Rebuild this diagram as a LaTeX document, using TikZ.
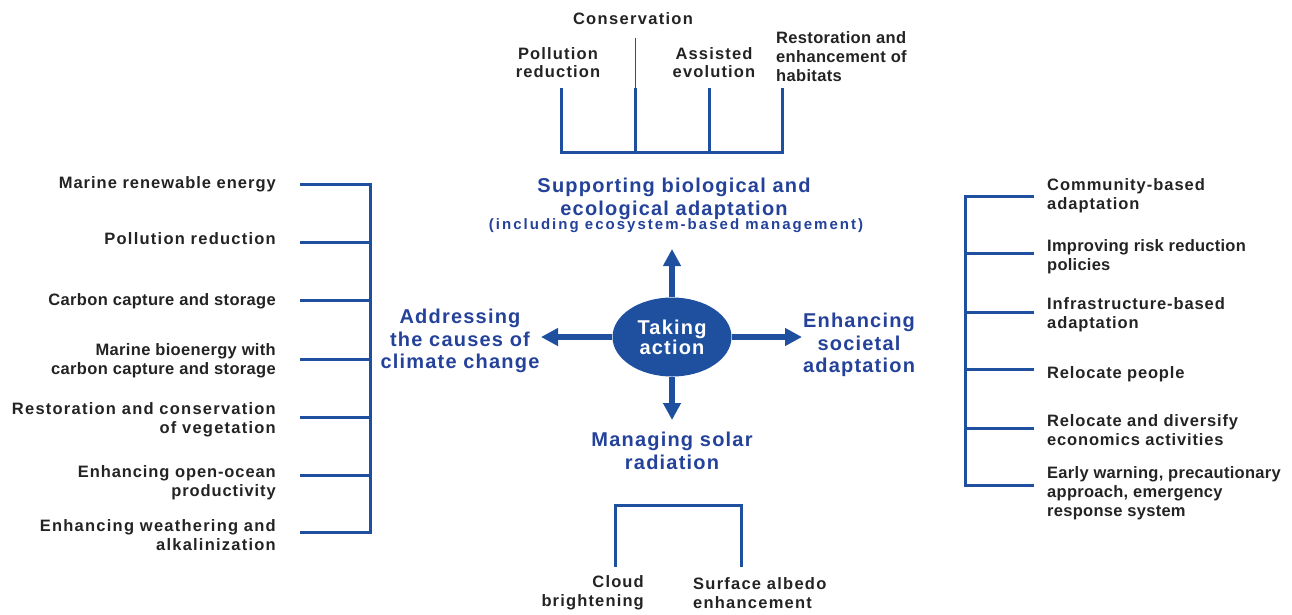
\documentclass[tikz,border=0pt]{standalone}
\usepackage{fontspec}
\setmainfont{Liberation Sans}
\usetikzlibrary{shapes.geometric,arrows.meta}

\definecolor{ipccblue}{RGB}{31,80,160}
\definecolor{headblue}{RGB}{36,66,154}
\definecolor{inkgrey}{RGB}{35,35,35}

\tikzset{
  item/.style={font=\bfseries\fontsize{16.5}{18.8}\selectfont\addfontfeatures{LetterSpace=#1}, text=inkgrey, inner sep=0pt},
  item/.default=5,
  head/.style={font=\bfseries\fontsize{20}{22.5}\selectfont\addfontfeatures{LetterSpace=6}, text=headblue, inner sep=0pt, align=center},
  bracket/.style={draw=ipccblue, line width=3pt, line join=miter},
  bigarrow/.style={draw=ipccblue, line width=6.5pt, -{Triangle[length=17pt,width=17pt]}},
}

\begin{document}
\begin{tikzpicture}[x=1pt,y=-1pt]
\useasboundingbox (0,0) rectangle (1292,614);

% centre
\node[ellipse, fill=ipccblue, minimum width=119pt, minimum height=79pt, inner sep=0pt,
  text=white, align=center, font=\bfseries\fontsize{20}{20}\selectfont\addfontfeatures{LetterSpace=6}] (act) at (672,337) {Taking\\action};
\coordinate (uptip) at (672,249);
\coordinate (lefttip) at (541,337);
\coordinate (righttip) at (802,337);
\coordinate (downtip) at (672,420);
\draw[bigarrow] (act) -- (uptip);
\draw[bigarrow] (act) -- (lefttip);
\draw[bigarrow] (act) -- (righttip);
\draw[bigarrow] (act) -- (downtip);

% headings
\node[head] (bio) at (674,199) {Supporting biological and\\ecological adaptation};
\node[head, font=\bfseries\fontsize{15}{16}\selectfont\addfontfeatures{LetterSpace=13.5}] (biosub) at (676,226) {(including ecosystem-based management)};
\node[head] (causes) at (460,341) {Addressing\\the causes of\\climate change};
\node[head] (society) at (859,345) {Enhancing\\societal\\adaptation};
\node[head] (solar) at (672,451) {Managing solar\\radiation};

% top bracket
\coordinate (tb1) at (561,152);
\coordinate (tb2) at (635,152);
\coordinate (tb3) at (709,152);
\coordinate (tb4) at (782,152);
\draw[bracket] (561,88) -- (tb1) -- (tb4) -- (782,88);
\draw[bracket] (tb2) -- ++(0,-64);
\draw[bracket] (tb3) -- ++(0,-64);
\draw[draw=ipccblue, line width=0.8pt] (635,88) -- (635,38);
\node[item=8] (tcon) at (633,19) {Conservation};
\node[item=7, align=center] (tpol) at (558,62.5) {Pollution\\reduction};
\node[item=7, align=center] (tass) at (714,62.5) {Assisted\\evolution};
\node[item=2, align=left, anchor=west] (thab) at (776,56.5) {Restoration and\\enhancement of\\habitats};

% left bracket
\draw[bracket] (300,184) -- (370,184) -- (370,532) -- (300,532);
\foreach \y in {242,300,359,417,475}
  \draw[bracket] (300,\y) -- (370,\y);
\node[item=6, align=right, anchor=east] (l1) at (276,184) {Marine renewable energy};
\node[item=7.5, align=right, anchor=east] (l2) at (276,239) {Pollution reduction};
\node[item=2, align=right, anchor=east] (l3) at (276,301) {Carbon capture and storage};
\node[item=2, align=right, anchor=east] (l4) at (276,361) {Marine bioenergy with\\carbon capture and storage};
\node[item=7.5, align=right, anchor=east] (l5) at (276,419.5) {Restoration and conservation\\of vegetation};
\node[item=5.5, align=right, anchor=east] (l6) at (276,483) {Enhancing open-ocean\\productivity};
\node[item=7.5, align=right, anchor=east] (l7) at (276,535) {Enhancing weathering and\\alkalinization};

% right bracket
\draw[bracket] (1034,196) -- (965,196) -- (965,485) -- (1034,485);
\foreach \y in {253,312,369,428}
  \draw[bracket] (965,\y) -- (1034,\y);
\node[item=6, align=left, anchor=west] (r1) at (1047,195.5) {Community-based\\adaptation};
\node[item=1.5, align=left, anchor=west] (r2) at (1047,257) {Improving risk reduction\\policies};
\node[item=5.5, align=left, anchor=west] (r3) at (1047,315) {Infrastructure-based\\adaptation};
\node[item=5, align=left, anchor=west] (r4) at (1047,374) {Relocate people};
\node[item=5, align=left, anchor=west] (r5) at (1047,430) {Relocate and diversify\\economics activities};
\node[item=1.7, align=left, anchor=west] (r6) at (1047,493.5) {Early warning, precautionary\\approach, emergency\\response system};

% bottom bracket
\coordinate (bb1) at (615,505);
\coordinate (bb2) at (741,505);
\draw[bracket] (615,567) -- (bb1) -- (bb2) -- (741,567);
\node[item=7, align=right, anchor=east] (cloud) at (644,593) {Cloud\\brightening};
\node[item=7.5, align=left, anchor=west] (albedo) at (693,593) {Surface albedo\\enhancement};
\end{tikzpicture}
\end{document}
